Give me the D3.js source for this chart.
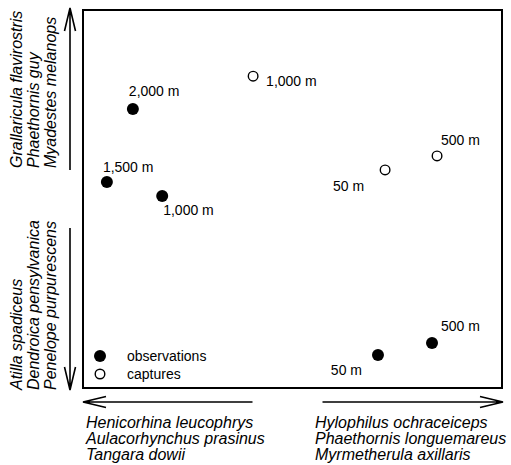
<!DOCTYPE html>
<html>
<head>
<meta charset="utf-8">
<script src="https://cdn.jsdelivr.net/npm/d3@7"></script>
<style>
  html, body { margin: 0; padding: 0; background: #fff; }
  svg { display: block; }
  text { font-family: "Liberation Sans", Arial, Helvetica, sans-serif; fill: #000; }
</style>
</head>
<body>
<svg id="chart" width="511" height="465"></svg>
<script>
// Point positions on the two ordination axes (0–100 units) and their altitude labels
const obsX = [11.9, 5.7, 18.9, 83.3, 70.4];
const obsY = [73.8, 54.5, 50.8, 11.9, 8.7];
const obsLabels = ["2,000 m", "1,500 m", "1,000 m", "500 m", "50 m"];

const capX = [40.6, 84.5, 72.1];
const capY = [82.5, 61.4, 57.7];
const capLabels = ["1,000 m", "500 m", "50 m"];

// Species associated with each end of the axes
const yTopSpecies = ["Grallaricula flavirostris", "Phaethornis guy", "Myadestes melanops"];
const yBottomSpecies = ["Atilla spadiceus", "Dendroica pensylvanica", "Penelope purpurescens"];
const xLeftSpecies = ["Henicorhina leucophrys", "Aulacorhynchus prasinus", "Tangara dowii"];
const xRightSpecies = ["Hylophilus ochraceiceps", "Phaethornis longuemareus", "Myrmetherula axillaris"];

const legendLabels = ["observations", "captures"];

const svg = d3.select("#chart");
const box = { left: 83, right: 502, top: 10, bottom: 388 };

const x = d3.scaleLinear().domain([0, 100]).range([box.left, box.right]);
const y = d3.scaleLinear().domain([0, 100]).range([box.bottom, box.top]);

// Plot frame
svg.append("rect")
  .attr("x", box.left).attr("y", box.top)
  .attr("width", box.right - box.left).attr("height", box.bottom - box.top)
  .attr("fill", "none").attr("stroke", "#000").attr("stroke-width", 2);

// Open-headed arrow from (x1,y1) to (x2,y2)
function arrow(x1, y1, x2, y2) {
  const len = 23, half = 5.5;
  const a = Math.atan2(y2 - y1, x2 - x1);
  const bx = x2 - len * Math.cos(a), by = y2 - len * Math.sin(a);
  const nx = -Math.sin(a) * half, ny = Math.cos(a) * half;
  const p = d3.path();
  p.moveTo(x1, y1); p.lineTo(x2, y2);
  p.moveTo(bx + nx, by + ny); p.lineTo(x2, y2); p.lineTo(bx - nx, by - ny);
  svg.append("path").attr("d", p.toString())
    .attr("fill", "none").attr("stroke", "#000").attr("stroke-width", 1.6);
}
const midY = (box.top + box.bottom) / 2;
const midX = (box.left + box.right) / 2;
arrow(70, midY - 29, 70, box.top - 2);
arrow(70, midY + 29, 70, box.bottom + 2);
arrow(midX - 40, 402, box.left, 402);
arrow(midX + 30, 402, box.right + 1, 402);

// Species labels along the vertical axis (rotated, reading upward)
function rotatedBlock(lines, startY) {
  lines.forEach((t, i) => {
    svg.append("text")
      .attr("transform", `translate(${22 + i * 17},${startY}) rotate(-90)`)
      .attr("font-size", 16).attr("font-style", "italic")
      .text(t);
  });
}
rotatedBlock(yTopSpecies, midY - 31);
rotatedBlock(yBottomSpecies, box.bottom + 2);

// Species labels under the horizontal axis
function horizBlock(lines, startX) {
  lines.forEach((t, i) => {
    svg.append("text")
      .attr("x", startX).attr("y", 428 + i * 16)
      .attr("font-size", 16).attr("font-style", "italic")
      .text(t);
  });
}
horizBlock(xLeftSpecies, 86);
horizBlock(xRightSpecies, 315);

// Label placement relative to each point: [dx, dy, anchor]
const obsPlacement = [[-4, -13, "start"], [-4, -10, "start"], [1, 19, "start"], [9, -12, "start"], [-16, 20, "end"]];
const capPlacement = [[13, 10, "start"], [4, -11, "start"], [-21, 21, "end"]];

const obs = obsX.map((v, i) => ({ x: v, y: obsY[i], label: obsLabels[i], p: obsPlacement[i] }));
const cap = capX.map((v, i) => ({ x: v, y: capY[i], label: capLabels[i], p: capPlacement[i] }));

svg.selectAll("circle.obs").data(obs).join("circle")
  .attr("class", "obs")
  .attr("cx", d => x(d.x)).attr("cy", d => y(d.y)).attr("r", 6)
  .attr("fill", "#000");

svg.selectAll("circle.cap").data(cap).join("circle")
  .attr("class", "cap")
  .attr("cx", d => x(d.x)).attr("cy", d => y(d.y)).attr("r", 4.8)
  .attr("fill", "#fff").attr("stroke", "#000").attr("stroke-width", 1.4);

svg.selectAll("text.pt").data(obs.concat(cap)).join("text")
  .attr("class", "pt")
  .attr("x", d => x(d.x) + d.p[0]).attr("y", d => y(d.y) + d.p[1])
  .attr("text-anchor", d => d.p[2])
  .attr("font-size", 14)
  .text(d => d.label);

// Legend
const legend = svg.append("g").attr("transform", "translate(100,356)");
legendLabels.forEach((t, i) => {
  const g = legend.append("g").attr("transform", `translate(0,${i * 18})`);
  g.append("circle").attr("r", i === 0 ? 6 : 4.8)
    .attr("fill", i === 0 ? "#000" : "#fff")
    .attr("stroke", "#000").attr("stroke-width", i === 0 ? 0 : 1.4);
  g.append("text").attr("x", 27).attr("y", 5).attr("font-size", 14).text(t);
});
</script>
</body>
</html>
